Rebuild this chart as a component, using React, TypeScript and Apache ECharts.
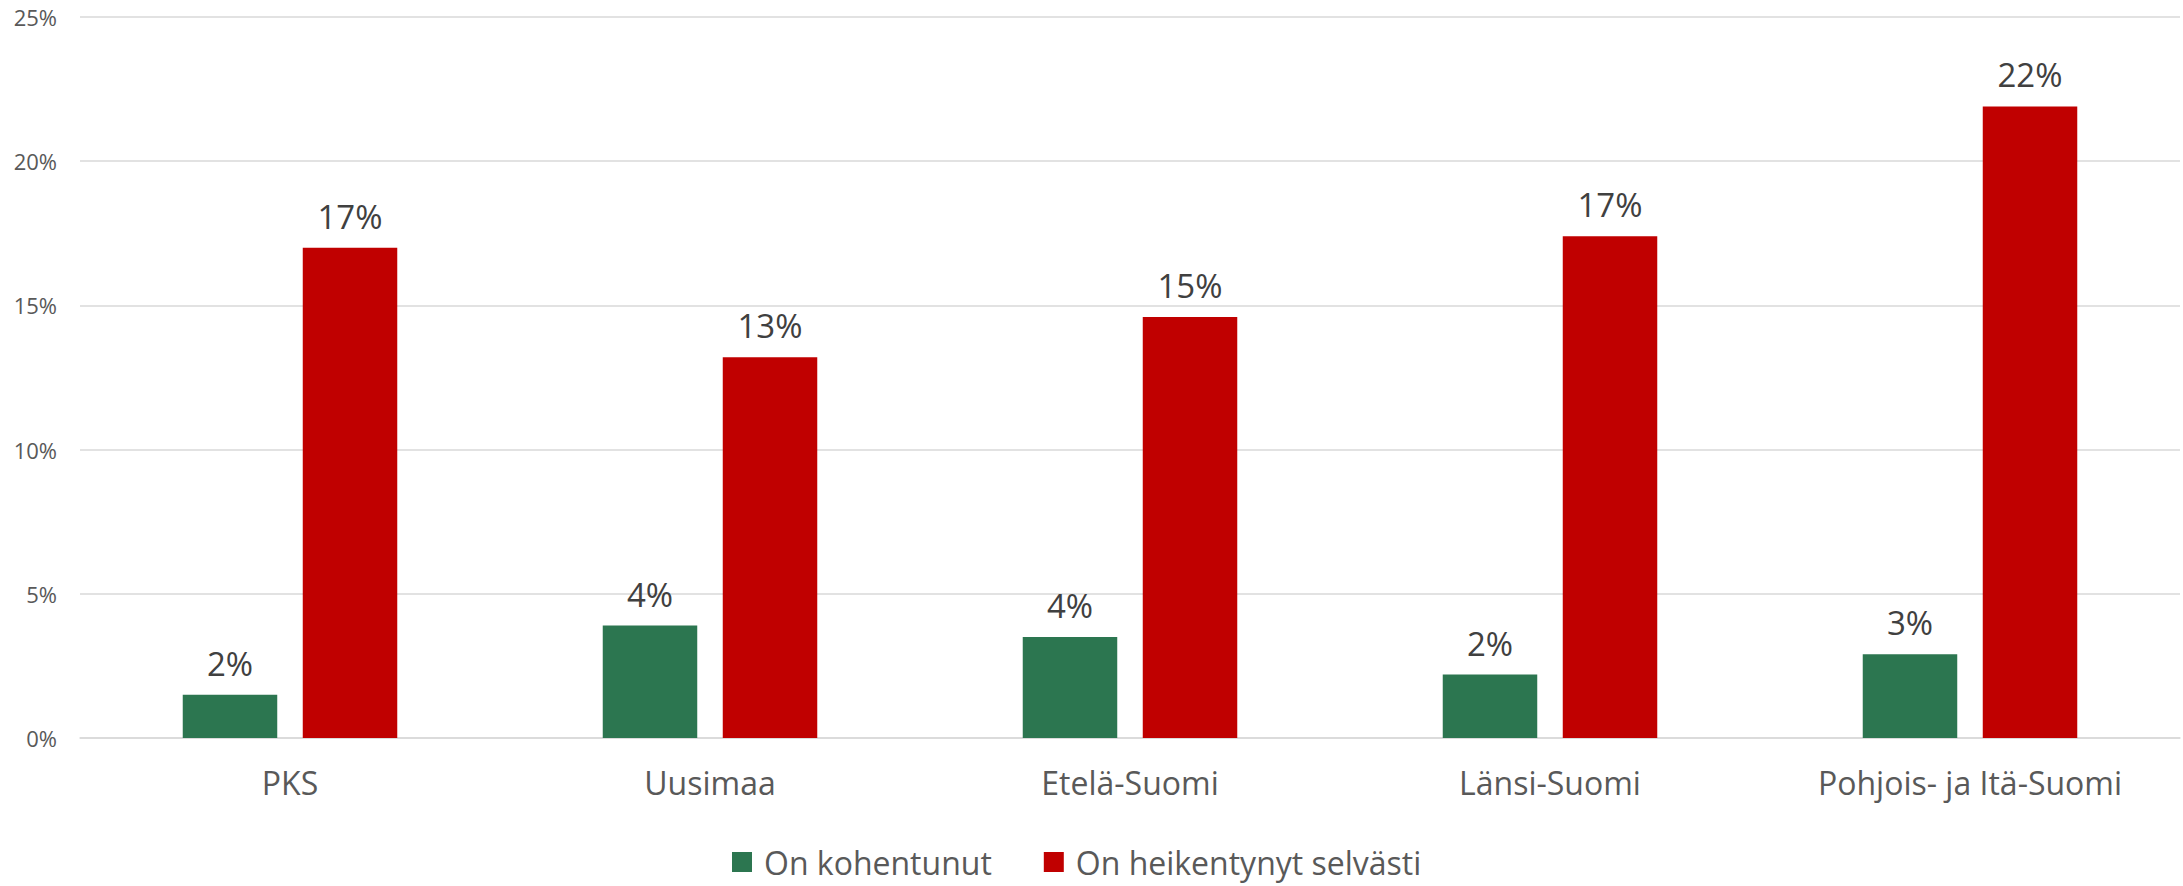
import React, { useEffect, useRef } from "react";
import * as echarts from "echarts";

const categories = ["PKS", "Uusimaa", "Etelä-Suomi", "Länsi-Suomi", "Pohjois- ja Itä-Suomi"];
const improved = [1.5, 3.9, 3.5, 2.2, 2.9];
const weakened = [17.0, 13.2, 14.6, 17.4, 21.9];
const seriesNames = ["On kohentunut", "On heikentynyt selvästi"];
const yTicks = { min: 0, max: 25, interval: 5 };

const FONT = "'Open Sans', sans-serif";

export default function App() {
  const ref = useRef<HTMLDivElement>(null);
  useEffect(() => {
    if (!ref.current) return;
    const chart = echarts.init(ref.current, undefined, { renderer: "svg" });
    const label = {
      show: true,
      position: "top",
      distance: 15,
      fontFamily: FONT,
      fontSize: 33,
      color: "#404040",
      formatter: (p: any) => Math.round(p.value) + "%",
    };
    chart.setOption({
      animation: false,
      backgroundColor: "#ffffff",
      textStyle: { fontFamily: FONT },
      grid: { left: 80, right: 3, top: 17, bottom: 148, containLabel: false },
      legend: {
        data: seriesNames,
        top: 840,
        left: 727,
        itemWidth: 20,
        itemHeight: 20,
        itemGap: 52,
        icon: "rect",
        textStyle: { fontFamily: FONT, fontSize: 32, lineHeight: 34, color: "#595959", padding: [0, 0, 0, 7] },
      },
      xAxis: {
        type: "category",
        data: categories,
        axisLine: { show: true, lineStyle: { color: "#d9d9d9", width: 1.5 } },
        axisTick: { show: false },
        axisLabel: { fontFamily: FONT, fontSize: 32, color: "#595959", margin: 28 },
      },
      yAxis: {
        type: "value",
        min: yTicks.min,
        max: yTicks.max,
        interval: yTicks.interval,
        axisLine: { show: false },
        axisTick: { show: false },
        splitLine: { lineStyle: { color: "#d9d9d9", width: 1.5 } },
        axisLabel: { fontFamily: FONT, fontSize: 22, color: "#595959", margin: 23, formatter: "{value}%" },
      },
      series: [
        {
          name: seriesNames[0],
          type: "bar",
          data: improved,
          barWidth: "22.5%",
          barGap: "27%",
          itemStyle: { color: "#2C7650" },
          label,
        },
        {
          name: seriesNames[1],
          type: "bar",
          data: weakened,
          barWidth: "22.5%",
          barGap: "27%",
          itemStyle: { color: "#C00000" },
          label,
        },
      ],
    });
    return () => chart.dispose();
  }, []);
  return (
    <div
      ref={ref}
      style={{ position: "absolute", left: 0, top: 0, width: 2183, height: 886, background: "#fff" }}
    />
  );
}
